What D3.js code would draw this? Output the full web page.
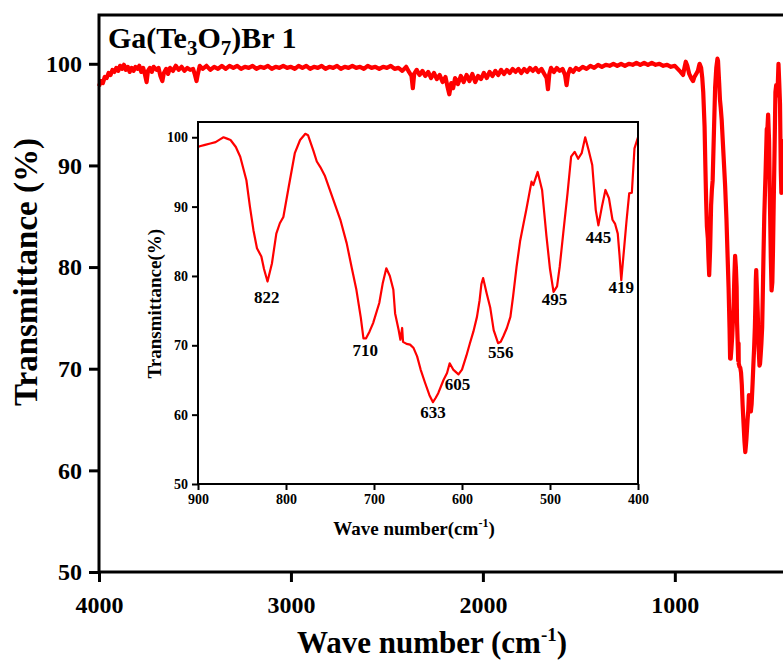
<!DOCTYPE html>
<html>
<head>
<meta charset="utf-8">
<script src="https://cdn.jsdelivr.net/npm/d3@7"></script>
<style>
  html, body { margin: 0; padding: 0; background: #fff; }
  svg { display: block; font-family: "Liberation Serif", "Times New Roman", serif; font-weight: bold; }
</style>
</head>
<body>
<div id="draw"></div>
<script>
// baseline part of the spectrum, 4000 - 900 cm-1 : [wavenumber, transmittance]
var baseline = [
  [4000,97.8],[3990,98.3],[3980,98.1],[3970,98.7],[3960,98.6],[3950,99.1],[3940,98.9],[3930,99.4],
  [3920,99.2],[3910,99.6],[3900,99.3],[3890,99.8],[3880,99.5],[3870,99.9],[3860,99.4],[3850,99.7],
  [3840,99.2],[3830,99.6],[3820,99.3],[3810,99.7],[3800,99.5],[3790,99.8],[3780,99.2],[3770,99.6],
  [3760,98.9],[3752,98.2],[3745,99.3],[3735,99.6],[3725,99.2],[3715,99.7],[3700,99.4],[3690,99.6],
  [3680,98.8],[3670,98.3],[3662,99.1],[3650,99.5],[3640,99.0],[3630,99.6],[3615,99.3],[3600,99.8],
  [3585,99.4],[3570,99.7],[3555,99.3],[3540,99.6],[3525,99.4],[3510,99.5],[3500,98.9],[3492,98.3],
  [3485,99.0],[3475,99.8],[3460,99.5],[3440,99.8],[3420,99.4],[3400,99.7],[3380,99.5],[3360,99.8],
  [3340,99.5],[3320,99.8],[3300,99.6],[3280,99.8],[3260,99.5],[3240,99.7],[3220,99.6],[3200,99.8],
  [3180,99.5],[3160,99.7],[3140,99.6],[3120,99.8],[3100,99.5],[3080,99.7],[3060,99.6],[3040,99.8],
  [3020,99.6],[3000,99.7],[2980,99.5],[2960,99.8],[2940,99.6],[2920,99.8],[2900,99.5],[2880,99.7],
  [2860,99.6],[2840,99.8],[2820,99.5],[2800,99.7],[2780,99.6],[2760,99.8],[2740,99.5],[2720,99.7],
  [2700,99.6],[2680,99.8],[2660,99.6],[2640,99.7],[2620,99.5],[2600,99.8],[2580,99.6],[2560,99.7],
  [2540,99.5],[2520,99.7],[2500,99.6],[2480,99.8],[2460,99.5],[2440,99.6],[2420,99.3],[2400,99.7],
  [2385,99.2],[2372,98.8],[2365,97.6],[2358,99.0],[2345,99.4],[2330,98.9],[2315,99.3],[2300,98.8],
  [2285,99.2],[2270,98.6],[2255,99.1],[2240,98.5],[2225,98.9],[2210,98.2],[2195,98.7],[2185,97.8],
  [2175,97.0],[2165,98.1],[2155,97.6],[2145,98.6],[2130,98.0],[2115,98.8],[2100,98.2],[2085,98.9],
  [2070,98.3],[2055,99.0],[2040,98.2],[2025,98.8],[2010,98.5],[1995,99.1],[1980,98.6],[1965,99.2],
  [1950,98.8],[1935,99.3],[1920,98.9],[1905,99.4],[1890,99.0],[1875,99.4],[1860,99.1],[1845,99.5],
  [1830,99.2],[1815,99.5],[1800,99.1],[1785,99.5],[1770,99.2],[1755,99.6],[1740,99.3],[1725,99.6],
  [1710,99.2],[1695,99.5],[1680,99.0],[1668,98.6],[1661,97.5],[1654,99.0],[1645,99.6],[1630,99.2],
  [1615,99.6],[1600,99.3],[1585,99.5],[1572,98.9],[1564,97.9],[1556,99.0],[1545,99.5],[1530,99.2],
  [1515,99.6],[1500,99.4],[1480,99.7],[1460,99.5],[1440,99.8],[1420,99.6],[1400,99.9],[1380,99.7],
  [1360,99.9],[1340,99.8],[1320,100.0],[1300,99.8],[1280,100.0],[1260,99.8],[1240,100.0],[1220,99.9],
  [1200,100.1],[1180,99.9],[1160,100.1],[1140,99.9],[1120,100.1],[1100,99.9],[1080,100.0],[1060,99.8],
  [1040,99.9],[1020,99.7],[1000,99.8],[985,99.5],[970,99.2],[957,98.9],[950,99.6],[943,100.2],
  [935,99.8],[925,99.0],[915,98.6],[905,98.3]
];

// fingerprint part, 900 - 400 cm-1 (also drawn in the inset)
var fingerprint = [
  [900,98.6],[898,98.7],[892,98.9],[886,99.1],[880,99.3],[875,99.7],[871,100.0],[867,99.8],
  [863,99.6],[857,98.6],[852,97.2],[845,93.8],[841,90.0],[837,86.6],[833,84.0],[828,82.8],
  [825,81.0],[821,79.2],[816,81.8],[811,86.1],[807,87.6],[803,88.5],[797,92.8],[790,97.7],
  [784,99.6],[778,100.5],[775,100.3],[769,98.1],[765,96.5],[761,95.7],[756,94.5],[746,90.9],
  [738,88.0],[731,84.7],[725,81.0],[720,78.0],[715,74.0],[712,71.0],[709,71.0],[705,72.0],
  [701,73.2],[694,76.1],[690,79.0],[686,81.1],[682,80.0],[678,78.0],[676,74.6],[672,72.2],
  [670,70.8],[668,72.5],[667,70.5],[663,70.2],[659,70.1],[655,69.6],[651,68.4],[647,66.5],
  [642,64.6],[637,62.8],[633,61.8],[630,62.4],[627,63.1],[621,65.0],[617,66.0],[614,67.4],
  [610,66.5],[604,65.8],[600,66.5],[595,68.5],[591,70.3],[587,72.0],[583,74.1],[580,76.5],
  [578,78.8],[576,79.7],[572,77.5],[568,75.5],[564,72.2],[559,70.3],[556,70.5],[553,71.3],
  [549,72.5],[545,74.1],[542,77.0],[538,81.3],[534,85.0],[530,87.6],[527,89.5],[521,93.6],
  [519,93.1],[514,95.0],[509,92.4],[504,85.7],[500,81.0],[496,77.7],[492,78.5],[489,81.3],
  [485,86.1],[480,92.0],[476,97.2],[472,97.9],[468,96.9],[464,97.7],[460,100.0],[456,98.1],
  [452,96.0],[448,89.5],[445,87.3],[441,90.0],[437,92.4],[433,91.2],[429,88.1],[426,87.5],
  [423,86.1],[421,83.0],[419,79.4],[416,83.7],[413,88.0],[410,91.9],[407,92.0],[404,98.4],
  [400,100.0]
];

// peak labels in the inset: [text, wavenumber, transmittance where the label sits]
var peakLabels = [
  ["822", 822, 76.1], ["710", 710, 68.5], ["633", 633, 59.5], ["605", 605, 63.5],
  ["556", 556, 68.2], ["495", 495, 75.8], ["445", 445, 84.8], ["419", 419, 77.5]
];

var mainXTicks = [4000, 3000, 2000, 1000];
var mainYTicks = [50, 60, 70, 80, 90, 100];
var insetXTicks = [900, 800, 700, 600, 500, 400];
var insetYTicks = [50, 60, 70, 80, 90, 100];

(function () {
    "use strict";

    var width = 783,
        height = 663,
        red = '#ff0000',
        fmt = d3.format('d');

    var svg = d3.select('#draw').append('svg')
        .attr('width', width)
        .attr('height', height);

    // ---- main plot ----
    var x = d3.scaleLinear().domain([4000, 400]).range([99, 790]),
        y = d3.scaleLinear().domain([50, 104.8]).range([572, 15]);

    var spectrum = baseline.concat(fingerprint);

    var line = d3.line()
        .x(function (d) { return x(d[0]); })
        .y(function (d) { return y(d[1]); });

    svg.append('path')
        .datum(spectrum)
        .attr('d', line)
        .attr('fill', 'none')
        .attr('stroke', red)
        .attr('stroke-width', 4.2)
        .attr('stroke-linejoin', 'round');

    // frame (right side falls outside the picture)
    svg.append('rect')
        .attr('x', x(4000)).attr('y', y(104.8))
        .attr('width', x(400) - x(4000)).attr('height', y(50) - y(104.8))
        .attr('fill', 'none').attr('stroke', '#000').attr('stroke-width', 3);

    var xAxis = svg.append('g')
        .attr('transform', 'translate(0,' + y(50) + ')')
        .call(d3.axisBottom(x).tickValues(mainXTicks).tickFormat(fmt)
            .tickSize(10).tickSizeOuter(0).tickPadding(14));
    var yAxis = svg.append('g')
        .attr('transform', 'translate(' + x(4000) + ',0)')
        .call(d3.axisLeft(y).tickValues(mainYTicks).tickFormat(fmt)
            .tickSize(10).tickSizeOuter(0).tickPadding(7));

    [xAxis, yAxis].forEach(function (g) {
        g.select('.domain').remove();
        g.selectAll('.tick line').attr('stroke', '#000').attr('stroke-width', 3);
        g.selectAll('.tick text')
            .attr('fill', '#000')
            .style('font-family', '"Liberation Serif", serif')
            .style('font-weight', 'bold')
            .style('font-size', '24px');
    });

    // title with subscripts
    var title = svg.append('text').attr('x', 108).attr('y', 48)
        .style('font-size', '30px');
    title.append('tspan').text('Ga(Te');
    title.append('tspan').attr('dy', 7).style('font-size', '21px').text('3');
    title.append('tspan').attr('dy', -7).text('O');
    title.append('tspan').attr('dy', 7).style('font-size', '21px').text('7');
    title.append('tspan').attr('dy', -7).text(')Br 1');

    // axis titles
    var xt = svg.append('text').attr('x', 432).attr('y', 653)
        .attr('text-anchor', 'middle').style('font-size', '31px');
    xt.append('tspan').text('Wave number (cm');
    xt.append('tspan').attr('dy', -12).style('font-size', '19px').text('-1');
    xt.append('tspan').attr('dy', 12).text(')');

    svg.append('text')
        .attr('transform', 'translate(37,272) rotate(-90)')
        .attr('text-anchor', 'middle')
        .style('font-size', '33px')
        .text('Transmittance (%)');

    // ---- inset ----
    var ix = d3.scaleLinear().domain([900, 400]).range([198, 638]),
        iy = d3.scaleLinear().domain([50, 102.2]).range([484, 122]);

    var inset = svg.append('g');

    inset.append('rect')
        .attr('x', ix(900)).attr('y', iy(102.2))
        .attr('width', ix(400) - ix(900)).attr('height', iy(50) - iy(102.2))
        .attr('fill', '#fff');

    var iline = d3.line()
        .x(function (d) { return ix(d[0]); })
        .y(function (d) { return iy(d[1]); });

    inset.append('path')
        .datum(fingerprint)
        .attr('d', iline)
        .attr('fill', 'none')
        .attr('stroke', red)
        .attr('stroke-width', 2.2)
        .attr('stroke-linejoin', 'round');

    inset.append('rect')
        .attr('x', ix(900)).attr('y', iy(102.2))
        .attr('width', ix(400) - ix(900)).attr('height', iy(50) - iy(102.2))
        .attr('fill', 'none').attr('stroke', '#000').attr('stroke-width', 2);

    var ixAxis = inset.append('g')
        .attr('transform', 'translate(0,' + iy(50) + ')')
        .call(d3.axisBottom(ix).tickValues(insetXTicks).tickFormat(fmt)
            .tickSize(6).tickSizeOuter(0).tickPadding(4));
    var iyAxis = inset.append('g')
        .attr('transform', 'translate(' + ix(900) + ',0)')
        .call(d3.axisLeft(iy).tickValues(insetYTicks).tickFormat(fmt)
            .tickSize(6).tickSizeOuter(0).tickPadding(4));

    [ixAxis, iyAxis].forEach(function (g) {
        g.select('.domain').remove();
        g.selectAll('.tick line').attr('stroke', '#000').attr('stroke-width', 2);
        g.selectAll('.tick text')
            .attr('fill', '#000')
            .style('font-family', '"Liberation Serif", serif')
            .style('font-weight', 'bold')
            .style('font-size', '14px');
    });

    inset.selectAll('text.peak')
        .data(peakLabels)
        .enter().append('text')
        .attr('class', 'peak')
        .attr('x', function (d) { return ix(d[1]); })
        .attr('y', function (d) { return iy(d[2]); })
        .attr('text-anchor', 'middle')
        .style('font-size', '17px')
        .text(function (d) { return d[0]; });

    var ixt = inset.append('text').attr('x', 414).attr('y', 535)
        .attr('text-anchor', 'middle').style('font-size', '19px');
    ixt.append('tspan').text('Wave number(cm');
    ixt.append('tspan').attr('dy', -8).style('font-size', '12px').text('-1');
    ixt.append('tspan').attr('dy', 8).text(')');

    inset.append('text')
        .attr('transform', 'translate(161,' + iy(76) + ') rotate(-90)')
        .attr('text-anchor', 'middle')
        .style('font-size', '19px')
        .text('Transmittance(%)');
}());
</script>
</body>
</html>
